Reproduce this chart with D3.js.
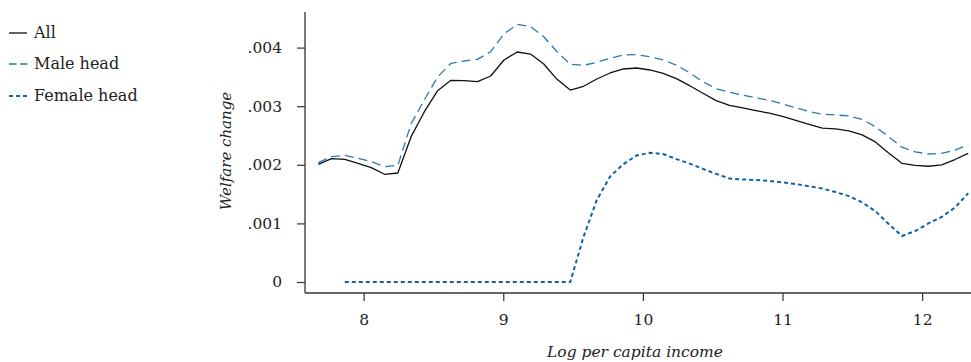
<!DOCTYPE html>
<html><head><meta charset="utf-8">
<script src="https://cdn.jsdelivr.net/npm/d3@7"></script>
<style>
html,body{margin:0;padding:0;background:#fff;}
svg text{font-family:"DejaVu Serif",serif;fill:#222;}
</style></head>
<body><svg id="c" width="971" height="362"></svg>
<script>
// Log per capita income grid
const income = [7.675,7.77,7.865,7.96,8.055,8.15,8.245,8.34,8.435,8.53,8.625,8.72,8.815,8.91,9.005,9.10,9.195,9.29,9.385,9.48,9.575,9.67,9.765,9.86,9.955,10.05,10.145,10.24,10.335,10.43,10.525,10.62,10.715,10.81,10.905,11.00,11.095,11.19,11.285,11.38,11.475,11.57,11.665,11.76,11.855,11.95,12.045,12.14,12.235,12.33];
// Welfare change (x 0.001)
const allHH = [2.008,2.104,2.094,2.025,1.951,1.838,1.860,2.48,2.906,3.265,3.442,3.435,3.42,3.515,3.788,3.925,3.89,3.72,3.459,3.276,3.34,3.464,3.567,3.635,3.652,3.618,3.56,3.47,3.35,3.22,3.095,3.015,2.97,2.925,2.88,2.825,2.76,2.69,2.625,2.612,2.58,2.51,2.39,2.2,2.026,1.99,1.975,2.0,2.09,2.196];
const maleHead = [2.036,2.139,2.162,2.111,2.053,1.968,1.991,2.70,3.11,3.50,3.732,3.771,3.80,3.93,4.232,4.397,4.357,4.186,3.93,3.715,3.698,3.749,3.817,3.874,3.879,3.845,3.79,3.70,3.57,3.418,3.30,3.237,3.19,3.145,3.10,3.04,2.975,2.91,2.862,2.85,2.835,2.776,2.65,2.48,2.30,2.222,2.184,2.196,2.25,2.338];
const femaleHead = [null,null,0,0,0,0,0,0,0,0,0,0,0,0,0,0,0,0,0,0,0.773,1.40,1.80,2.01,2.16,2.205,2.184,2.097,2.02,1.93,1.845,1.765,1.75,1.74,1.725,1.70,1.672,1.635,1.595,1.535,1.465,1.36,1.21,0.99,0.785,0.87,1.0,1.11,1.27,1.514];
const xTicks = [8,9,10,11,12];
const xTickLabels = ["8","9","10","11","12"];
const yTicks = [0,0.001,0.002,0.003,0.004];
const yTickLabels = ["0",".001",".002",".003",".004"];
const seriesNames = ["All","Male head","Female head"];

const svg = d3.select("#c");
const x = d3.scaleLinear().domain([7.58,12.35]).range([305,971]);
const y = d3.scaleLinear().domain([0,0.004]).range([282,47.6]);
const axisY = 293, axisX = 305;

const styles = [
  {color:"#111", width:1.3, dash:null},
  {color:"#2a78b8", width:1.3, dash:"9,5"},
  {color:"#0c62a8", width:2, dash:"4,3"}
];
const data = [allHH, maleHead, femaleHead];

// axes
const gx = svg.append("g").attr("transform",`translate(0,${axisY})`)
  .call(d3.axisBottom(x).tickValues(xTicks).tickFormat((d,i)=>xTickLabels[i]).tickSize(8).tickPadding(13).tickSizeOuter(0));
const gy = svg.append("g").attr("transform",`translate(${axisX},0)`)
  .call(d3.axisLeft(y).tickValues(yTicks).tickFormat((d,i)=>yTickLabels[i]).tickSize(8).tickPadding(15).tickSizeOuter(0));
[gx,gy].forEach(g=>{
  g.selectAll("path.domain").attr("stroke","#333").attr("stroke-width",1.3);
  g.selectAll(".tick line").attr("stroke","#333").attr("stroke-width",1.2);
  g.selectAll(".tick text").style("font-family","DejaVu Serif").style("font-size","15.5px").attr("fill","#222");
});
gx.select("path.domain").attr("d",`M${axisX},0H971`);
gy.select("path.domain").attr("d",`M0,12V${axisY}`);

// titles
svg.append("text").attr("x",635).attr("y",357).attr("text-anchor","middle")
  .style("font-style","italic").style("font-size","15.5px").text("Log per capita income");
svg.append("text").attr("transform","translate(231,151) rotate(-90)").attr("text-anchor","middle")
  .style("font-style","italic").style("font-size","15px").text("Welfare change");

// lines
data.forEach((vals,k)=>{
  const pts = income.map((v,i)=>[v, vals[i]]);
  const line = d3.line().defined(d=>d[1]!==null).x(d=>x(d[0])).y(d=>y(d[1]/1000));
  svg.append("path").datum(pts).attr("d",line).attr("fill","none")
    .attr("stroke",styles[k].color).attr("stroke-width",styles[k].width)
    .attr("stroke-dasharray",styles[k].dash).attr("stroke-linejoin","round");
});

// legend
const legY = [33,64,96];
seriesNames.forEach((n,k)=>{
  svg.append("line").attr("x1",9).attr("x2",k===1?28:27).attr("y1",legY[k]).attr("y2",legY[k])
    .attr("stroke",styles[k].color).attr("stroke-width",styles[k].width)
    .attr("stroke-dasharray",k===1?"7.5,3.5":styles[k].dash);
  svg.append("text").attr("x",34).attr("y",legY[k]+5).style("font-size","16px").text(n);
});
</script></body></html>
